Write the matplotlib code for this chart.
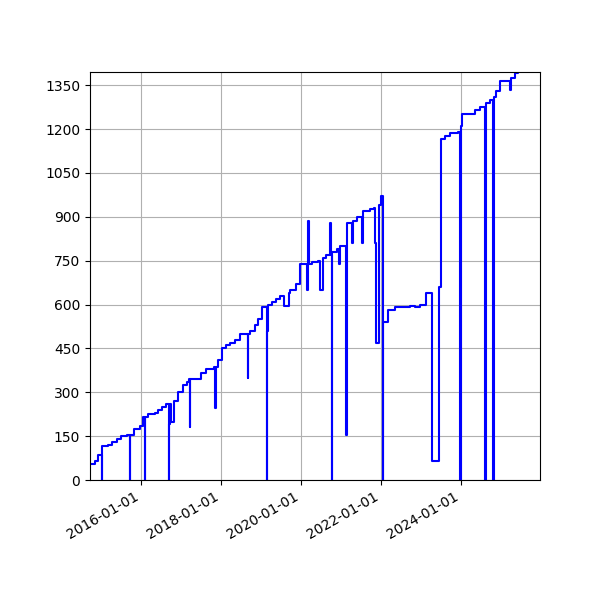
import matplotlib
matplotlib.use("Agg")
import matplotlib.pyplot as plt
import matplotlib.dates as mdates
import datetime as dt

years = [
    2014.73, 2014.85, 2014.93, 2015.03, 2015.04, 2015.18, 2015.28, 2015.4, 2015.5, 2015.65,
    2015.72, 2015.73, 2015.83, 2015.98, 2016.05, 2016.1, 2016.11, 2016.18, 2016.35, 2016.43,
    2016.53, 2016.63, 2016.7, 2016.71, 2016.73, 2016.75, 2016.83, 2016.93, 2017.05, 2017.15,
    2017.2, 2017.22, 2017.23, 2017.5, 2017.63, 2017.83, 2017.86, 2017.88, 2017.93, 2018.03,
    2018.13, 2018.23, 2018.35, 2018.48, 2018.68, 2018.69, 2018.73, 2018.85, 2018.93, 2019.03,
    2019.15, 2019.16, 2019.18, 2019.28, 2019.38, 2019.48, 2019.58, 2019.7, 2019.73, 2019.88,
    2019.98, 2020.16, 2020.18, 2020.2, 2020.28, 2020.43, 2020.48, 2020.56, 2020.63, 2020.73,
    2020.76, 2020.78, 2020.79, 2020.9, 2020.95, 2020.98, 2021.13, 2021.15, 2021.28, 2021.3,
    2021.4, 2021.53, 2021.55, 2021.73, 2021.83, 2021.85, 2021.87, 2021.95, 2022.0, 2022.05,
    2022.06, 2022.18, 2022.35, 2022.73, 2022.85, 2022.98, 2023.13, 2023.28, 2023.45, 2023.5,
    2023.6, 2023.73, 2023.93, 2023.98, 2024.0, 2024.03, 2024.35, 2024.48, 2024.6, 2024.62,
    2024.73, 2024.8, 2024.82, 2024.88, 2024.98, 2025.23, 2025.25, 2025.35, 2025.43,
]
values = [
    55, 65, 85, 0, 115, 120, 130, 140, 150, 155,
    0, 155, 175, 185, 215, 0, 215, 225, 230, 240,
    250, 260, 0, 190, 260, 200, 270, 300, 325, 335,
    345, 180, 345, 365, 380, 385, 245, 385, 410, 450,
    460, 470, 480, 500, 350, 500, 510, 530, 550, 590,
    0, 510, 600, 610, 620, 630, 595, 640, 650, 670,
    740, 650, 885, 740, 745, 750, 650, 760, 770, 880,
    770, 0, 780, 790, 740, 800, 155, 880, 810, 885,
    900, 810, 920, 925, 930, 810, 470, 940, 970, 0,
    540, 580, 590, 595, 590, 600, 640, 65, 660, 1165,
    1175, 1185, 1190, 0, 1210, 1250, 1265, 1275, 0, 1290,
    1300, 0, 1310, 1330, 1365, 1335, 1375, 1390, 1400,
]

def todate(y):
    yr = int(y)
    start = dt.datetime(yr, 1, 1)
    end = dt.datetime(yr + 1, 1, 1)
    return start + (end - start) * (y - yr)

dates = [todate(y) for y in years]

fig = plt.figure(figsize=(6, 6), dpi=100)
ax = fig.add_axes([0.15, 0.2, 0.75, 0.68])
ax.plot(dates, values, color="blue", drawstyle="steps-post", linewidth=1.5)
ax.set_xlim(todate(2014.73), todate(2025.98))
ax.set_ylim(0, 1395)
ax.set_yticks(range(0, 1351, 150))
ax.xaxis.set_major_locator(mdates.YearLocator(2))
ax.xaxis.set_major_formatter(mdates.DateFormatter("%Y-%m-%d"))
ax.grid(True)
fig.autofmt_xdate()
fig.savefig("out.png")
